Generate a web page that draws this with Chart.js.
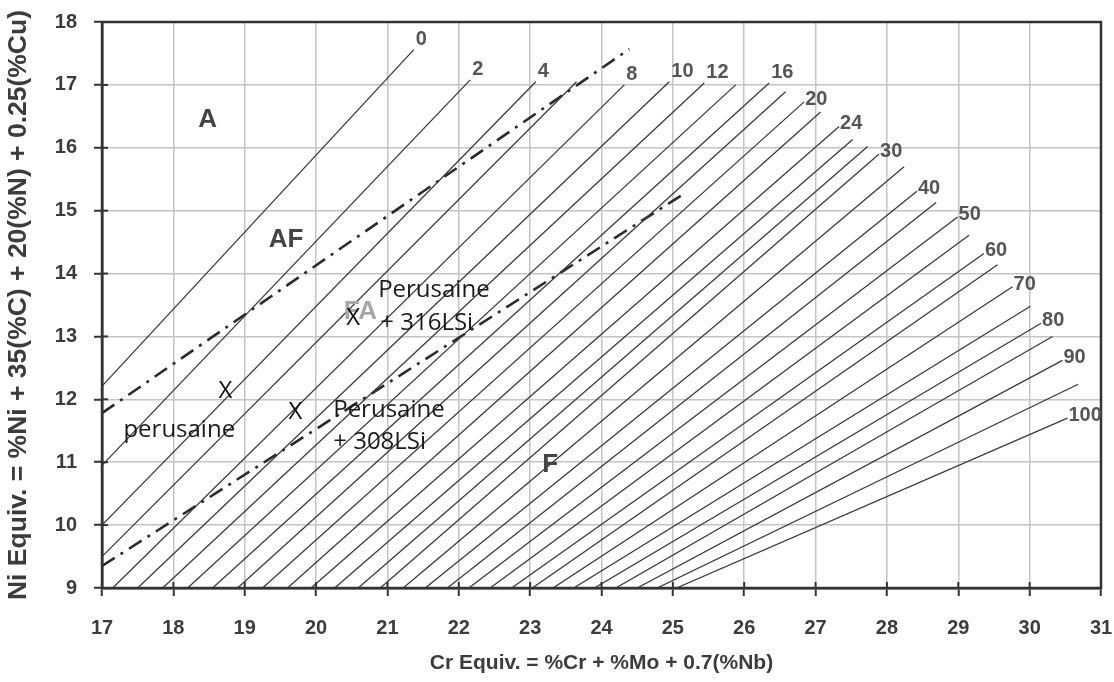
<!DOCTYPE html>
<html><head><meta charset="utf-8">
<script src="https://cdn.jsdelivr.net/npm/chart.js@4.4.1/dist/chart.umd.min.js"></script>
<style>html,body{margin:0;padding:0;background:#fff;}</style>
</head><body>
<canvas id="c" width="1114" height="682"></canvas>
<script>
// ---- data ----
const ferriteNumbers = [0,2,4,6,8,10,12,14,16,18,20,22,24,26,28,30,35,40,45,50,55,60,65,70,75,80,85,90,95,100];
const lineStartX = [17,17,17,17,17.15,17.5,17.85,18.2,18.55,18.9,19.25,19.6,19.93,20.26,20.59,20.9,21.22,21.53,21.84,22.14,22.44,22.74,23.03,23.32,23.61,23.9,24.2,24.5,24.78,25.05];
const lineStartY = [12.21,10.95,10.0,9.5,9,9,9,9,9,9,9,9,9,9,9,9,9,9,9,9,9,9,9,9,9,9,9,9,9,9];
const lineEndX = [21.37,22.16,23.08,23.65,24.32,24.95,25.44,25.88,26.35,26.58,26.84,27.07,27.33,27.52,27.73,27.89,28.24,28.42,28.69,28.99,29.15,29.36,29.55,29.76,30.01,30.16,30.32,30.46,30.68,30.53];
const lineEndY = [17.56,17.08,17.05,17.05,17.0,17.05,17.03,17.0,17.03,16.89,16.73,16.57,16.34,16.13,16.02,15.90,15.70,15.31,15.13,14.90,14.61,14.32,14.14,13.79,13.48,13.21,13.0,12.62,12.24,11.70];
const labelledNumbers = [0,2,4,8,10,12,16,20,24,30,40,50,60,70,80,90,100];

const boundaryUpperX = [17, 24.39];
const boundaryUpperY = [11.78, 17.57];
const boundaryLowerX = [17, 25.17];
const boundaryLowerY = [9.35, 15.28];

const xTickValues = [17,18,19,20,21,22,23,24,25,26,27,28,29,30,31];
const yTickValues = [9,10,11,12,13,14,15,16,17,18];

const regionText = ['A','AF','FA','F'];
const regionX = [18.48, 19.58, 20.62, 23.28];
const regionY = [16.44, 14.53, 13.39, 10.96];

const markerX = [18.73, 19.71, 20.52];
const markerY = [12.13, 11.80, 13.29];

const noteText = ['Perusaine','+ 316LSi','Perusaine','+ 308LSi','perusaine'];
const noteX = [20.87, 20.90, 20.24, 20.24, 17.30];
const noteY = [13.63, 13.10, 11.72, 11.21, 11.40];

const xTitle = 'Cr Equiv. = %Cr + %Mo + 0.7(%Nb)';
const yTitle = 'Ni Equiv. = %Ni + 35(%C) + 20(%N) + 0.25(%Cu)';

// ---- chart ----
const datasets = ferriteNumbers.map((fn, i) => ({
  label: 'FN ' + fn,
  data: [{x: lineStartX[i], y: lineStartY[i]}, {x: lineEndX[i], y: lineEndY[i]}],
  showLine: true, borderColor: '#3a3a3a', borderWidth: 1.3, pointRadius: 0, fill: false
}));
datasets.push({
  label: 'A/AF boundary',
  data: boundaryUpperX.map((v, i) => ({x: v, y: boundaryUpperY[i]})),
  showLine: true, borderColor: '#2a2a2a', borderWidth: 2.6, borderDash: [15, 7, 3, 7], pointRadius: 0
});
datasets.push({
  label: 'FA/F boundary',
  data: boundaryLowerX.map((v, i) => ({x: v, y: boundaryLowerY[i]})),
  showLine: true, borderColor: '#2a2a2a', borderWidth: 2.6, borderDash: [15, 7, 3, 7], pointRadius: 0
});

const SANS = '"Liberation Sans", Arial, sans-serif';
const TEXT = '"Open Sans", "Noto Sans", sans-serif';

const overlay = {
  id: 'overlay',
  afterDatasetsDraw(chart) {
    const {ctx, chartArea: a, scales: {x, y}} = chart;
    ctx.save();
    ctx.strokeStyle = '#333';
    ctx.lineWidth = 2.5;
    ctx.strokeRect(a.left, a.top, a.right - a.left, a.bottom - a.top);
    ctx.lineWidth = 2;
    xTickValues.forEach(v => {
      const px = x.getPixelForValue(v);
      ctx.beginPath(); ctx.moveTo(px, a.bottom); ctx.lineTo(px, a.bottom - 6); ctx.stroke();
    });
    yTickValues.forEach(v => {
      const py = y.getPixelForValue(v);
      ctx.beginPath(); ctx.moveTo(a.left, py); ctx.lineTo(a.left + 6, py); ctx.stroke();
    });
    // FN labels
    ctx.font = 'bold 20px ' + SANS;
    ctx.fillStyle = '#555';
    ctx.textAlign = 'left';
    ctx.textBaseline = 'alphabetic';
    ferriteNumbers.forEach((fn, i) => {
      if (!labelledNumbers.includes(fn)) return;
      const px = x.getPixelForValue(lineEndX[i]);
      const py = y.getPixelForValue(lineEndY[i]);
      if (lineEndY[i] > 16.95) ctx.fillText(String(fn), px + 2, py - 5);
      else ctx.fillText(String(fn), px + 1, py + 3);
    });
    // region labels
    ctx.textAlign = 'center';
    ctx.textBaseline = 'middle';
    regionText.forEach((t, i) => {
      ctx.font = 'bold 26px ' + SANS;
      ctx.fillStyle = t === 'FA' ? '#a8a8a8' : '#444';
      ctx.fillText(t, x.getPixelForValue(regionX[i]), y.getPixelForValue(regionY[i]));
    });
    // markers
    ctx.font = '24px ' + TEXT;
    ctx.fillStyle = '#111';
    markerX.forEach((v, i) => ctx.fillText('X', x.getPixelForValue(v), y.getPixelForValue(markerY[i])));
    // notes
    ctx.textAlign = 'left';
    ctx.textBaseline = 'alphabetic';
    ctx.font = '24px ' + TEXT;
    ctx.fillStyle = '#1a1a1a';
    noteText.forEach((t, i) => ctx.fillText(t, x.getPixelForValue(noteX[i]), y.getPixelForValue(noteY[i])));
    ctx.restore();
  }
};

new Chart(document.getElementById('c'), {
  type: 'scatter',
  data: {datasets},
  options: {
    responsive: false,
    animation: false,
    devicePixelRatio: 1,
    layout: {padding: {top: 22, right: 13, left: 0, bottom: 0}},
    plugins: {legend: {display: false}, tooltip: {enabled: false}},
    scales: {
      x: {
        type: 'linear', min: 17, max: 31,
        afterBuildTicks: s => { s.ticks = xTickValues.map(v => ({value: v})); },
        afterFit: s => { s.height = 94; s.paddingLeft = 0; s.paddingRight = 0; },
        ticks: {font: {family: SANS, size: 20, weight: 'bold'}, color: '#3c3c3c', padding: 20, maxRotation: 0},
        grid: {color: '#c4c4c4', lineWidth: 1.5, tickLength: 8, tickColor: '#333', tickWidth: 2},
        border: {display: true, color: '#333', width: 2.5},
        title: {display: true, text: xTitle, font: {family: SANS, size: 21, weight: 'bold'}, color: '#3c3c3c', padding: {top: 0, bottom: 6}}
      },
      y: {
        type: 'linear', min: 9, max: 18,
        afterBuildTicks: s => { s.ticks = yTickValues.map(v => ({value: v})); },
        afterFit: s => { s.width = 102; s.paddingTop = 0; s.paddingBottom = 0; },
        ticks: {font: {family: SANS, size: 20, weight: 'bold'}, color: '#3c3c3c', padding: 17},
        grid: {color: '#c4c4c4', lineWidth: 1.5, tickLength: 8, tickColor: '#333', tickWidth: 2},
        border: {display: true, color: '#333', width: 2.5},
        title: {display: true, text: yTitle, font: {family: SANS, size: 26.5, weight: 'bold'}, color: '#3c3c3c', padding: {top: 3, bottom: 0}}
      }
    }
  },
  plugins: [overlay]
});
</script>
</body></html>
